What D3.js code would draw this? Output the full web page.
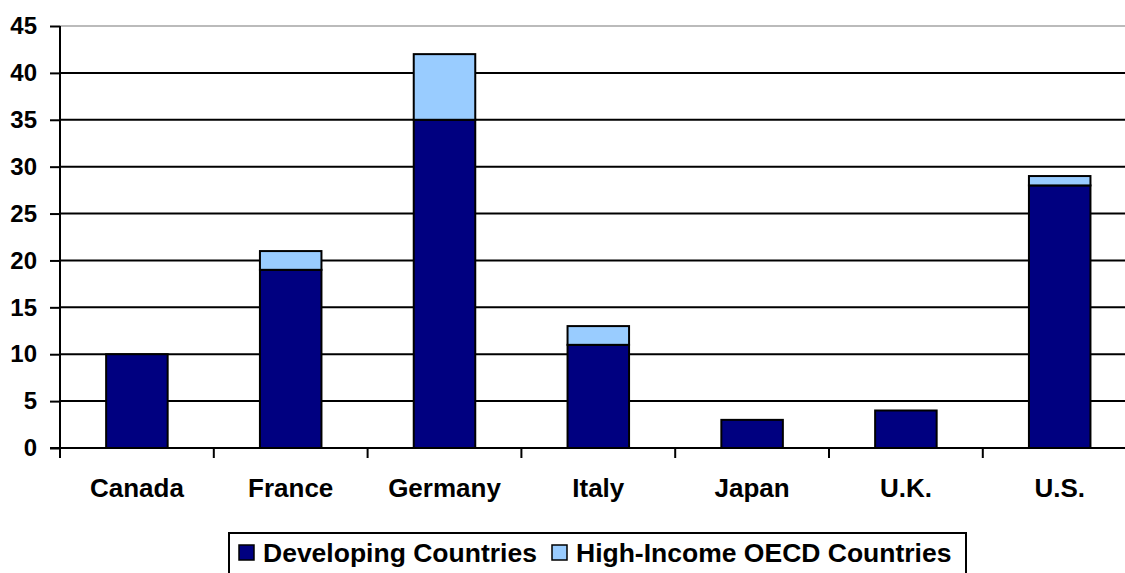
<!DOCTYPE html>
<html>
<head>
<meta charset="utf-8">
<script src="https://cdn.jsdelivr.net/npm/d3@7"></script>
<style>
  html, body { margin: 0; padding: 0; background: #fff; }
  svg { display: block; font-family: "Liberation Sans", Arial, sans-serif; font-weight: bold; }
</style>
</head>
<body>
<svg id="chart" width="1125" height="573"></svg>
<script>
// chart data
const countries = ["Canada", "France", "Germany", "Italy", "Japan", "U.K.", "U.S."]
const developing = [10, 19, 35, 11, 3, 4, 28]
const highIncome = [0, 2, 7, 2, 0, 0, 1]
const seriesNames = ["Developing Countries", "High-Income OECD Countries"]
const seriesColors = ["#000080", "#99CCFF"]
const yTicks = [0, 5, 10, 15, 20, 25, 30, 35, 40, 45]

const svg = d3.select("#chart")
const plotLeft = 60, plotTop = 26, plotBottom = 448
const band = 153.8
const plotRight = plotLeft + band * countries.length

const x = d3.scaleBand().domain(countries).range([plotLeft, plotRight]).paddingInner(0.6).paddingOuter(0.3)
const y = d3.scaleLinear().domain([0, 45]).range([plotBottom, plotTop])

// gridlines
svg.append("g")
  .selectAll("line")
  .data(yTicks.filter(d => d > 0))
  .join("line")
  .attr("x1", plotLeft).attr("x2", plotRight)
  .attr("y1", d => y(d)).attr("y2", d => y(d))
  .attr("stroke", d => d === 45 ? "#bbb" : "#000")
  .attr("stroke-width", 2)

// stacked bars
const rows = countries.map((c, i) => ({ country: c, developing: developing[i], high: highIncome[i] }))
const stacked = d3.stack().keys(["developing", "high"])(rows)

svg.append("g")
  .selectAll("g")
  .data(stacked)
  .join("g")
  .attr("fill", (d, i) => seriesColors[i])
  .selectAll("rect")
  .data(d => d.filter(s => s[1] > s[0]))
  .join("rect")
  .attr("x", d => x(d.data.country))
  .attr("width", x.bandwidth())
  .attr("y", d => y(d[1]))
  .attr("height", d => y(d[0]) - y(d[1]))
  .attr("stroke", "#000")
  .attr("stroke-width", 2)

// y axis
const yAxis = svg.append("g")
  .attr("transform", `translate(${plotLeft},0)`)
  .call(d3.axisLeft(y).tickValues(yTicks).tickSize(10).tickPadding(13))
yAxis.selectAll("line, path").attr("stroke", "#000").attr("stroke-width", 2)
yAxis.select(".domain").attr("d", `M0,${plotTop}V${plotBottom + 1}`)
yAxis.selectAll("text")
  .attr("fill", "#000")
  .style("font-size", "24px")
  .style("font-weight", "bold")
  .style("font-family", "'Liberation Sans', Arial, sans-serif")

// x axis with ticks between categories
const xAxis = svg.append("g").attr("transform", `translate(0,${plotBottom})`)
xAxis.append("line")
  .attr("x1", plotLeft - 10).attr("x2", plotRight)
  .attr("stroke", "#000").attr("stroke-width", 2)
xAxis.selectAll(".tk")
  .data(d3.range(countries.length + 1))
  .join("line")
  .attr("class", "tk")
  .attr("x1", i => plotLeft + i * band).attr("x2", i => plotLeft + i * band)
  .attr("y1", 0).attr("y2", 10)
  .attr("stroke", "#000").attr("stroke-width", 2)
xAxis.selectAll("text")
  .data(countries)
  .join("text")
  .attr("x", d => x(d) + x.bandwidth() / 2)
  .attr("y", 49)
  .attr("text-anchor", "middle")
  .style("font-size", "26px")
  .text(d => d)

// legend
const legend = svg.append("g")
legend.append("rect")
  .attr("x", 229).attr("y", 533)
  .attr("width", 737).attr("height", 60)
  .attr("fill", "#fff").attr("stroke", "#000").attr("stroke-width", 2)

const legendX = [239, 552]
seriesNames.forEach((name, i) => {
  legend.append("rect")
    .attr("x", legendX[i]).attr("y", 545)
    .attr("width", 15).attr("height", 15)
    .attr("fill", seriesColors[i])
    .attr("stroke", "#000").attr("stroke-width", 1.5)
  legend.append("text")
    .attr("x", legendX[i] + 24).attr("y", 562)
    .style("font-size", "26.5px")
    .text(name)
})
</script>
</body>
</html>
